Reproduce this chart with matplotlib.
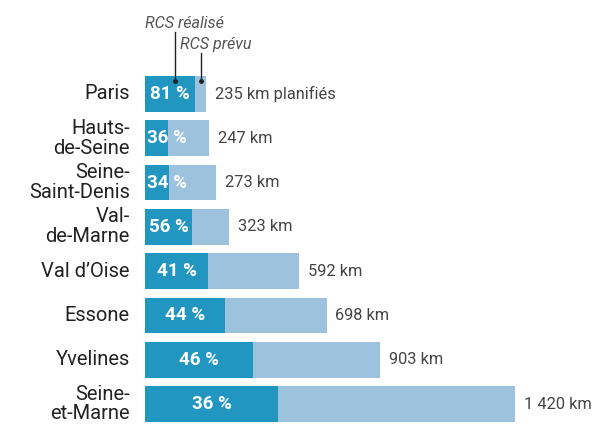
import numpy as np
import matplotlib.pyplot as plt

plt.rcParams['font.family'] = ['Roboto', 'DejaVu Sans']

departements = ["Paris", "Hauts-\nde-Seine", "Seine-\nSaint-Denis", "Val-\nde-Marne",
                "Val d\u2019Oise", "Essone", "Yvelines", "Seine-\net-Marne"]
km_planifies = [235, 247, 273, 323, 592, 698, 903, 1420]
pct_realise = [81, 36, 34, 56, 41, 44, 46, 36]
km_labels = ["235 km planifiés", "247 km", "273 km", "323 km",
             "592 km", "698 km", "903 km", "1 420 km"]

DARK = "#2196c1"
LIGHT = "#9cc2dd"

fig = plt.figure(figsize=(5.92, 4.24), dpi=100)
ax = fig.add_axes([145 / 592, 0, 447 / 592, 1])

y = np.arange(len(departements))
km = np.array(km_planifies, dtype=float)
done = km * np.array(pct_realise) / 100

ax.barh(y, km, height=0.81, color=LIGHT)
ax.barh(y, done, height=0.81, color=DARK)

for i in range(len(y)):
    lab = f"{pct_realise[i]} %"
    if done[i] > 150:
        ax.text(done[i] / 2, y[i], lab, ha='center', va='center',
                color='white', fontsize=13.5, fontweight='bold')
    else:
        ax.annotate(lab, (0, y[i]), xytext=(1.2, 0), textcoords='offset points',
                    ha='left', va='center', color='white', fontsize=13.5, fontweight='bold')
    ax.annotate(km_labels[i], (km[i], y[i]), xytext=(6, 0), textcoords='offset points',
                ha='left', va='center', color='#444444', fontsize=11.8)

# category labels, right aligned left of bars
for i in range(len(y)):
    ax.annotate(departements[i], (0, y[i]), xytext=(-11, 0), textcoords='offset points',
                ha='right', va='center', multialignment='right', color='#222222',
                fontsize=14.5, linespacing=1.05, annotation_clip=False)

# legend callouts on the Paris bar
x_real = 115
x_prev = 215
ax.text(0, -1.58, "RCS réalisé", ha='left', va='center', fontsize=11.6,
        style='italic', color='#555555')
ax.plot([x_real, x_real], [-0.29, -1.40], color='#222222', lw=1)
ax.plot(x_real, -0.29, 'o', color='#222222', ms=2.5)
ax.text(134, -1.11, "RCS prévu", ha='left', va='center', fontsize=11.6,
        style='italic', color='#555555')
ax.plot([x_prev, x_prev], [-0.29, -0.93], color='#222222', lw=1)
ax.plot(x_prev, -0.29, 'o', color='#222222', ms=2.5)

ax.set_xlim(0, 1714)
ax.set_ylim(7.45, -2.12)
ax.axis('off')

fig.savefig("out.png", dpi=100)
